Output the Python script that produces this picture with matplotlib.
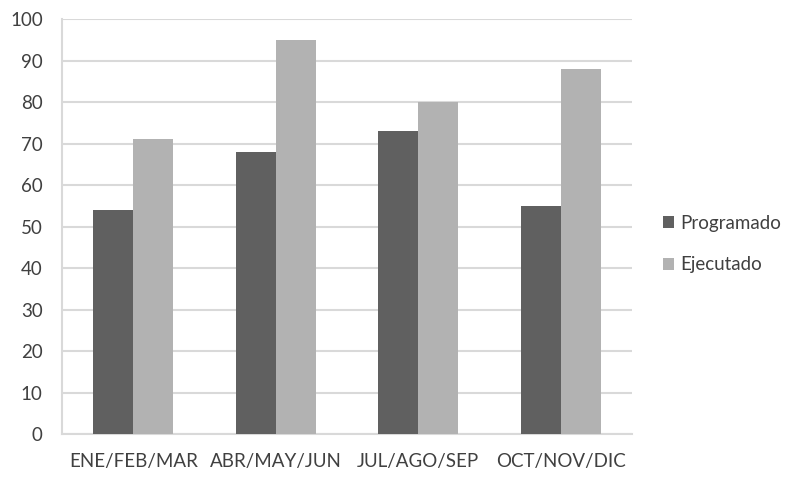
import numpy as np
import matplotlib.pyplot as plt

plt.rcParams['font.family'] = ['Lato', 'DejaVu Sans']

categories = ['ENE/FEB/MAR', 'ABR/MAY/JUN', 'JUL/AGO/SEP', 'OCT/NOV/DIC']
programado = [54, 68, 73, 55]
ejecutado = [71, 95, 80, 88]

fig = plt.figure(figsize=(8.07, 4.78), dpi=100)
ax = fig.add_axes([0.077, 0.092, 0.706, 0.868])

x = np.arange(len(categories))
w = 0.28
ax.bar(x - w / 2, programado, w, color='#606060', label='Programado', zorder=3)
ax.bar(x + w / 2, ejecutado, w, color='#b2b2b2', label='Ejecutado', zorder=3)

ax.set_xlim(-0.5, 3.5)
ax.set_ylim(0, 100)
ax.set_yticks(range(0, 101, 10))
ax.set_xticks(x)
ax.set_xticklabels(categories)
ax.yaxis.grid(True, color='#d9d9d9', linewidth=1.5, zorder=0)
for s in ['top', 'right']:
    ax.spines[s].set_visible(False)
for s in ['bottom', 'left']:
    ax.spines[s].set_color('#d9d9d9')
    ax.spines[s].set_linewidth(1.5)
ax.tick_params(length=0, labelsize=13.5, colors='#404040')
ax.tick_params(axis='y', pad=14)
ax.tick_params(axis='x', pad=14)

ax.legend(loc='center left', bbox_to_anchor=(663 / 807, 1 - 244 / 478),
          bbox_transform=fig.transFigure, frameon=False, borderaxespad=0,
          borderpad=0, fontsize=13.5, labelspacing=1.3, handlelength=0.6,
          handleheight=0.6, handletextpad=0.3, labelcolor='#404040')

fig.savefig('out.png', dpi=100)
